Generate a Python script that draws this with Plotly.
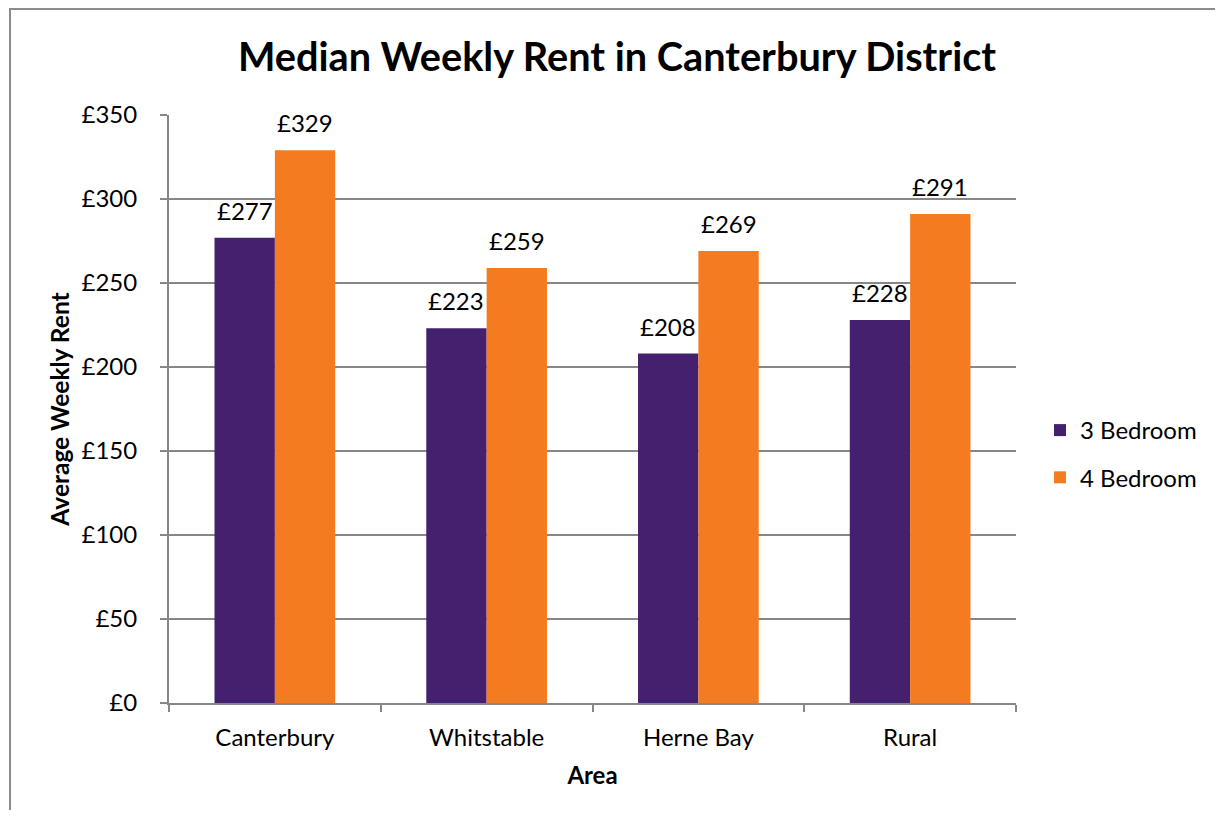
import plotly.graph_objects as go

areas = ["Canterbury", "Whitstable", "Herne Bay", "Rural"]
bed3 = [277, 223, 208, 228]
bed4 = [329, 259, 269, 291]
series_names = ["3 Bedroom", "4 Bedroom"]
colors = ["#45206F", "#F47B20"]
y_ticks = [0, 50, 100, 150, 200, 250, 300, 350]
y_tick_text = ["£" + str(v) for v in y_ticks]

FONT = "Lato, Calibri, sans-serif"
OFF = 8  # page body margin
BARGAP = 0.43

W, H = 1215, 802
L, R, T, B = 169 - OFF, 1016 - OFF, 115 - OFF, 703 - OFF
pw, ph = R - L, B - T

def px(x):
    return (x - OFF - L) / pw

def py(y):
    return (B - (y - OFF)) / ph

fig = go.Figure()
for name, vals, col in zip(series_names, [bed3, bed4], colors):
    fig.add_trace(go.Bar(
        x=areas, y=vals, name=name, marker=dict(color=col, line=dict(width=0)),
        legendgroup=name,
    ))

# value labels above each bar
bar_w = pw / len(areas) * (1 - BARGAP) / 2
for i, vals in enumerate([bed3, bed4]):
    shift = (i - 0.5) * bar_w
    for a, v in zip(areas, vals):
        fig.add_annotation(x=a, y=v, text="£" + str(v), showarrow=False,
                           xshift=shift, yshift=11, yanchor="bottom",
                           font=dict(size=24, family=FONT, color="#000000"))

fig.update_layout(
    width=W, height=H,
    margin=dict(l=L, r=W - R, t=T, b=H - B, pad=0),
    paper_bgcolor="white", plot_bgcolor="white",
    font=dict(family=FONT, size=24, color="#000000"),
    title=dict(text="<b>Median Weekly Rent in Canterbury District</b>",
               x=(617 - OFF) / W, xanchor="center", y=1 - (57 - OFF) / H, yanchor="middle",
               font=dict(size=39.7, family=FONT, color="#000000")),
    barmode="group", bargap=BARGAP, bargroupgap=0,
    showlegend=True,
    legend=dict(x=px(1040), xanchor="left", y=py(454), yanchor="middle",
                font=dict(size=24, family=FONT), traceorder="grouped",
                tracegroupgap=13, itemwidth=30, bgcolor="rgba(0,0,0,0)"),
    xaxis=dict(
        showline=True, linecolor="#878787", linewidth=2,
        ticks="outside", tickson="boundaries", ticklen=7, tickcolor="#878787", tickwidth=2,
        tickfont=dict(size=24, family=FONT), ticklabelstandoff=12,
        title=dict(text="<b>Area</b>", font=dict(size=24, family=FONT), standoff=17),
    ),
    yaxis=dict(
        range=[0, 350], tickvals=y_ticks, ticktext=y_tick_text,
        showline=True, linecolor="#878787", linewidth=2,
        showgrid=True, gridcolor="#878787", gridwidth=1.5,
        ticks="outside", ticklen=7, tickcolor="#878787", tickwidth=2,
        tickfont=dict(size=24, family=FONT), ticklabelstandoff=18,
        title=dict(text="<b>Average Weekly Rent</b>", font=dict(size=24.5, family=FONT), standoff=5),
        zeroline=False,
    ),
)

fig.add_shape(type="rect", xref="paper", yref="paper",
              x0=px(10), x1=px(1250), y0=py(850), y1=py(9),
              line=dict(color="#8C8C8C", width=2), fillcolor="rgba(0,0,0,0)", layer="below")

fig.write_html("out.html")
